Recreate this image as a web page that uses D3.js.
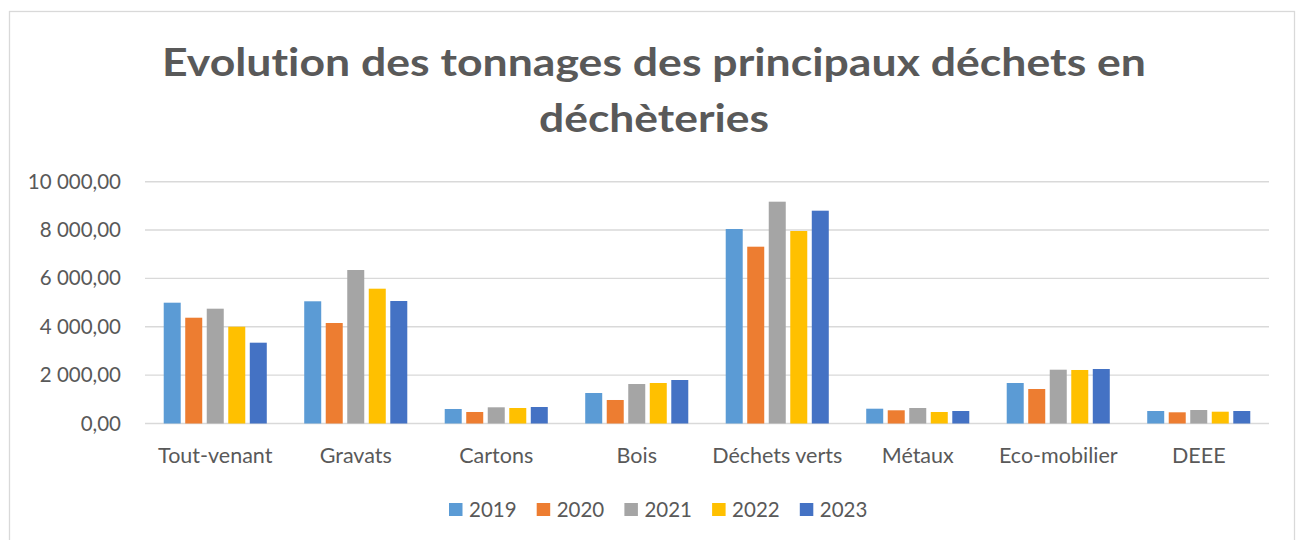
<!DOCTYPE html>
<html>
<head>
<meta charset="utf-8">
<script src="https://cdn.jsdelivr.net/npm/d3@7"></script>
<style>
  html, body { margin: 0; padding: 0; background: #ffffff; }
  svg { display: block; }
  text { font-family: Lato, "Open Sans", sans-serif; fill: #595959; font-variant-ligatures: none; }
</style>
</head>
<body>
<svg id="chart" width="1298" height="540"></svg>
<script>
const titleLines = ["Evolution des tonnages des principaux déchets en", "déchèteries"];
const categories = ["Tout-venant", "Gravats", "Cartons", "Bois", "Déchets verts", "Métaux", "Eco-mobilier", "DEEE"];
const years = ["2019", "2020", "2021", "2022", "2023"];
const colors = ["#5B9BD5", "#ED7D31", "#A5A5A5", "#FFC000", "#4472C4"];
const values2019 = [4996, 5054, 600, 1261, 8044, 612, 1675, 517];
const values2020 = [4375, 4156, 476, 972, 7312, 546, 1427, 463];
const values2021 = [4748, 6348, 670, 1633, 9173, 641, 2225, 558];
const values2022 = [4003, 5575, 641, 1675, 7961, 476, 2213, 488];
const values2023 = [3342, 5066, 682, 1799, 8801, 517, 2254, 517];
const yTicks = [0, 2000, 4000, 6000, 8000, 10000];

const seriesValues = [values2019, values2020, values2021, values2022, values2023];

const svg = d3.select("#chart");

// outer frame
svg.append("rect")
  .attr("x", 9.5).attr("y", 11.5)
  .attr("width", 1285).attr("height", 560)
  .attr("fill", "#ffffff").attr("stroke", "#D9D9D9").attr("stroke-width", 1.3);

// title
const title = svg.append("g");
const titleWidths = [984, 230];
const titleY = [76, 132];
titleLines.forEach((t, i) => {
  title.append("text")
    .attr("x", 654).attr("y", titleY[i])
    .attr("text-anchor", "middle")
    .attr("font-size", 39)
    .attr("font-weight", "bold")
    .attr("textLength", titleWidths[i])
    .attr("lengthAdjust", "spacingAndGlyphs")
    .text(t);
});

// scales
const x0 = d3.scaleBand().domain(categories).range([145, 1269]).padding(0);
const x1 = d3.scaleBand().domain(years).range([0, x0.bandwidth()])
  .paddingInner(0.21).paddingOuter(0.87);
const y = d3.scaleLinear().domain([0, 10000]).range([423.5, 181.7]);

const locale = d3.formatLocale({ decimal: ",", thousands: "\u00a0", grouping: [3], currency: ["", " €"] });
const fmt = locale.format(",.2f");

// gridlines
svg.append("g")
  .selectAll("line")
  .data(yTicks)
  .join("line")
  .attr("x1", 145).attr("x2", 1269)
  .attr("y1", d => y(d)).attr("y2", d => y(d))
  .attr("stroke", "#D9D9D9").attr("stroke-width", 1.4);

// y axis labels
const yAxis = d3.axisLeft(y).tickValues(yTicks).tickFormat(fmt).tickSize(0).tickPadding(0);
const gy = svg.append("g").attr("transform", "translate(121,0)").call(yAxis);
gy.select(".domain").remove();
gy.selectAll("text")
  .attr("font-size", 20.5)
  .attr("fill", "#595959")
  .attr("font-family", "Lato, 'Open Sans', sans-serif");

// bars
const table = categories.map((c, ci) => ({
  cat: c,
  vals: years.map((yr, si) => ({ year: yr, value: seriesValues[si][ci], color: colors[si] }))
}));

const groups = svg.append("g").selectAll("g")
  .data(table).join("g")
  .attr("transform", d => `translate(${x0(d.cat)},0)`);

groups.selectAll("rect")
  .data(d => d.vals).join("rect")
  .attr("x", d => x1(d.year))
  .attr("width", x1.bandwidth())
  .attr("y", d => y(d.value))
  .attr("height", d => y(0) - y(d.value))
  .attr("fill", d => d.color);

// x axis labels
const xAxis = d3.axisBottom(x0).tickSize(0).tickPadding(0);
const gx = svg.append("g").attr("transform", "translate(0,448)").call(xAxis);
gx.select(".domain").remove();
gx.selectAll("text")
  .attr("font-size", 21.5)
  .attr("fill", "#595959")
  .attr("font-family", "Lato, 'Open Sans', sans-serif")
  .attr("dy", "0.72em");

// legend
const legendX = d3.scalePoint().domain(years).range([449, 449 + 4 * 87.7]);
const legend = svg.append("g").selectAll("g")
  .data(years).join("g")
  .attr("transform", d => `translate(${legendX(d)},0)`);
legend.append("rect")
  .attr("x", 0).attr("y", 503)
  .attr("width", 13.5).attr("height", 13)
  .attr("fill", (d, i) => colors[i]);
legend.append("text")
  .attr("x", 20).attr("y", 516.5)
  .attr("font-size", 20.5)
  .text(d => d);
</script>
</body>
</html>
